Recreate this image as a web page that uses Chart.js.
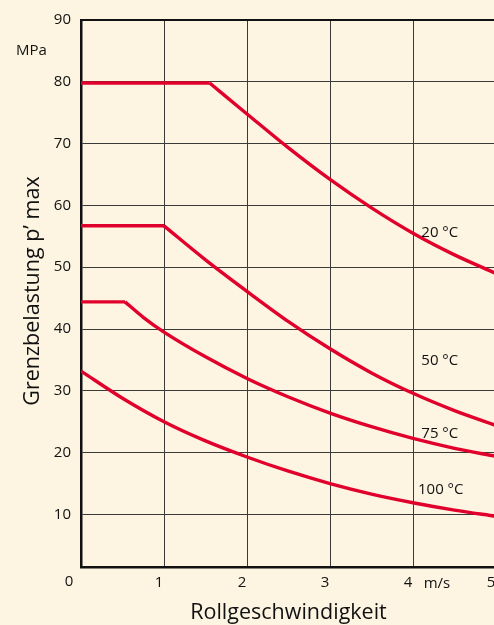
<!DOCTYPE html>
<html>
<head>
<meta charset="utf-8">
<script src="https://cdn.jsdelivr.net/npm/chart.js@4.4.1/dist/chart.umd.min.js"></script>
<style>
html,body{margin:0;padding:0;overflow:hidden;background:#fdf5e2;}
#wrap{width:500px;height:625px;position:relative;}
</style>
</head>
<body>
<div id="wrap"><canvas id="c"></canvas></div>
<script>
// ---- data ----
const xTicks = [0, 1, 2, 3, 4, 5];
const yTicks = [10, 20, 30, 40, 50, 60, 70, 80, 90];

const seriesNames = ['20 °C', '50 °C', '75 °C', '100 °C'];

// flat (plateau) parts
const flat20x = [0, 1.55];   const flat20y = [79.8, 79.8];
const flat50x = [0, 1.0];    const flat50y = [56.7, 56.7];
const flat75x = [0, 0.53];   const flat75y = [44.4, 44.4];

// falling parts
const curve20x = [1.55, 2.0, 2.5, 3.0, 3.5, 4.0, 4.5, 5.0];
const curve20y = [79.8, 74.8, 69.3, 64.2, 59.6, 55.5, 52.0, 49.0];

const curve50x = [1.0, 1.5, 2.0, 2.5, 3.0, 3.5, 4.0, 4.5, 5.0];
const curve50y = [56.7, 51.2, 46.1, 41.2, 36.8, 32.9, 29.6, 26.8, 24.4];

const curve75x = [0.53, 0.75, 1.0, 1.5, 2.0, 2.5, 3.0, 3.5, 4.0, 4.5, 5.0];
const curve75y = [44.4, 41.9, 39.5, 35.5, 32.0, 29.0, 26.4, 24.2, 22.3, 20.7, 19.4];

const curve100x = [0, 0.5, 1.0, 1.5, 2.0, 2.5, 3.0, 3.5, 4.0, 4.5, 5.0];
const curve100y = [33.2, 28.8, 25.0, 21.9, 19.3, 17.0, 15.0, 13.3, 11.9, 10.7, 9.7];

// label anchors (data units) for the curve names
const labelX = [4.10, 4.10, 4.10, 4.06];
const labelY = [55.6, 34.8, 23.1, 14.0];

const RED = '#e1002c';
const FONT = "'Open Sans', 'Noto Sans', sans-serif";

function pts(xs, ys){ return xs.map((x,i)=>({x:x, y:ys[i]})); }
function ds(xs, ys, curved){
  return {
    data: pts(xs, ys),
    borderColor: RED,
    borderWidth: 3.4,
    pointRadius: 0,
    fill: false,
    cubicInterpolationMode: curved ? 'monotone' : 'default',
    tension: curved ? 0.4 : 0,
    borderCapStyle: 'butt',
    borderJoinStyle: 'round'
  };
}

const extras = {
  id: 'extras',
  afterDraw(chart){
    const ctx = chart.ctx;
    const xs = chart.scales.x, ys = chart.scales.y;
    const a = chart.chartArea;
    ctx.save();
    // top border
    ctx.strokeStyle = '#111';
    ctx.lineWidth = 2;
    ctx.beginPath();
    ctx.moveTo(a.left - 1, a.top);
    ctx.lineTo(a.right + 10, a.top);
    ctx.stroke();

    ctx.fillStyle = '#111';
    ctx.textBaseline = 'middle';
    ctx.font = '15px ' + FONT;
    // curve labels
    ctx.textAlign = 'left';
    for (let i = 0; i < seriesNames.length; i++){
      ctx.fillText(seriesNames[i], xs.getPixelForValue(labelX[i]), ys.getPixelForValue(labelY[i]));
    }
    // unit labels
    ctx.textAlign = 'center';
    ctx.fillText('MPa', 31.5, 51);
    ctx.fillText('m/s', 437, 584);
    ctx.fillText('0', 69, 582);
    // axis titles
    ctx.font = '21.5px ' + FONT;
    ctx.textBaseline = 'alphabetic';
    ctx.fillText('Rollgeschwindigkeit', (a.left + a.right) / 2, 619);
    ctx.translate(39, 291);
    ctx.rotate(-Math.PI / 2);
    ctx.fillText('Grenzbelastung p\u2019 max', 0, 0);
    ctx.restore();
  }
};

new Chart(document.getElementById('c'), {
  type: 'line',
  data: {
    datasets: [
      ds(flat20x, flat20y, false),
      ds(curve20x, curve20y, true),
      ds(flat50x, flat50y, false),
      ds(curve50x, curve50y, true),
      ds(flat75x, flat75y, false),
      ds(curve75x, curve75y, true),
      ds(curve100x, curve100y, true)
    ]
  },
  options: {
    responsive: true,
    maintainAspectRatio: false,
    animation: false,
    layout: { padding: { left: 0, top: 20, right: 4, bottom: 0 } },
    plugins: { legend: { display: false }, tooltip: { enabled: false } },
    scales: {
      x: {
        type: 'linear',
        min: 0, max: 5,
        afterBuildTicks(scale){ scale.ticks = xTicks.map(v => ({ value: v })); },
        afterFit(scale){ scale.height = 58; scale.paddingLeft = 0; scale.paddingRight = 0; },
        ticks: {
          color: '#111',
          font: { family: FONT, size: 15 },
          padding: 7,
          labelOffset: -5,
          maxRotation: 0,
          autoSkip: false,
          callback: (v) => (v === 0 ? '' : String(v))
        },
        grid: { color: '#3a3a3a', lineWidth: 1, drawTicks: false },
        border: { color: '#111', width: 2.5 }
      },
      y: {
        type: 'linear',
        min: 1.5, max: 90,
        afterBuildTicks(scale){ scale.ticks = yTicks.map(v => ({ value: v })); },
        afterFit(scale){ scale.width = 81; scale.paddingTop = 0; scale.paddingBottom = 0; },
        ticks: {
          color: '#111',
          font: { family: FONT, size: 15 },
          padding: 10,
          autoSkip: false
        },
        grid: { color: '#3a3a3a', lineWidth: 1, drawTicks: false },
        border: { color: '#111', width: 2.5 }
      }
    }
  },
  plugins: [extras]
});
</script>
</body>
</html>
